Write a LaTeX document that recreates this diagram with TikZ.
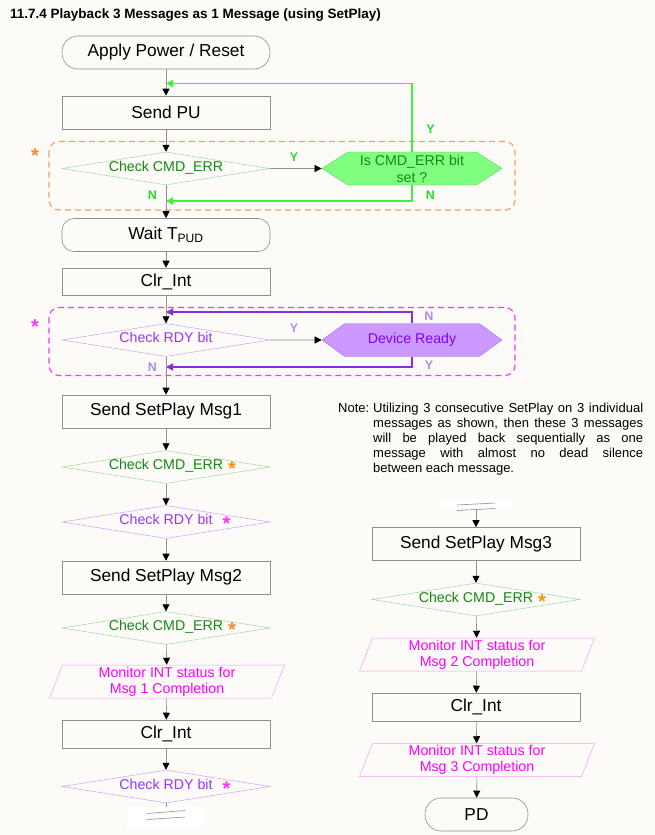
\documentclass[tikz,border=0pt]{standalone}
\usepackage{fontspec}
\setmainfont{Liberation Sans}
\usetikzlibrary{arrows.meta,shapes.geometric,shapes.symbols,positioning}
\definecolor{paper}{HTML}{FCFBF8}
\definecolor{linegray}{HTML}{8F8F8F}
\definecolor{cmdtext}{HTML}{138A13}
\definecolor{cmdline}{HTML}{9FD89F}
\definecolor{loopgreen}{HTML}{3CF03C}
\definecolor{yngreen}{HTML}{2BD92B}
\definecolor{hexfill}{HTML}{80FF80}
\definecolor{hexline}{HTML}{5FCF5F}
\definecolor{rdytext}{HTML}{9933FF}
\definecolor{rdyline}{HTML}{C8A2FF}
\definecolor{readyfill}{HTML}{CC99FF}
\definecolor{readyline}{HTML}{A77BE8}
\definecolor{readytext}{HTML}{8000FF}
\definecolor{looppurple}{HTML}{8A2BE2}
\definecolor{ynpurple}{HTML}{B08CF0}
\definecolor{montext}{HTML}{FF00FF}
\definecolor{monline}{HTML}{FF99FF}
\definecolor{errorange}{HTML}{FF8C1A}
\definecolor{errdash}{HTML}{FF9966}
\definecolor{rdymag}{HTML}{FF33FF}
\newcommand{\cmdstar}{\rlap{\hspace{5pt}\raisebox{-6pt}{\fontsize{20}{20}\selectfont\bfseries\color{errorange}*}}}
\newcommand{\rdystar}{\rlap{\hspace{10pt}\raisebox{-6pt}{\fontsize{20}{20}\selectfont\bfseries\color{rdymag}*}}}
\tikzset{
  base/.style={draw=linegray,line width=0.6pt,minimum width=208pt,minimum height=33pt,inner sep=0pt,font=\fontsize{17.3}{20}\selectfont},
  proc/.style={base,rectangle},
  term/.style={base,rounded corners=16pt},
  dec/.style={diamond,aspect=6.3,minimum width=208pt,minimum height=33pt,inner sep=0pt,text height=5pt,text depth=0pt,line width=0.5pt,font=\fontsize{14.2}{16}\selectfont},
  cmddec/.style={dec,draw=cmdline,text=cmdtext},
  rdydec/.style={dec,draw=rdyline,text=rdytext},
  hexa/.style={signal,signal to=east and west,minimum width=180pt,minimum height=33pt,inner sep=0pt,align=center,font=\fontsize{14.2}{17}\selectfont},
  hexg/.style={hexa,signal pointer angle=65,fill=hexfill,draw=hexline,text=cmdtext},
  hexp/.style={hexa,signal pointer angle=72,fill=readyfill,draw=readyline,text=readytext},
  mon/.style={trapezium,trapezium left angle=66,trapezium right angle=114,trapezium stretches body,draw=monline,text=montext,line width=0.5pt,minimum width=235pt,minimum height=33pt,inner sep=0pt,align=center,font=\fontsize{14.2}{16}\selectfont},
  flow/.style={draw=linegray,line width=0.6pt,-{Triangle[length=7pt,width=7pt,black]}},
  flowline/.style={draw=linegray,line width=0.6pt},
  loopg/.style={draw=loopgreen,line width=1.4pt,-{Triangle[length=7pt,width=7pt]}},
  loopp/.style={draw=looppurple,line width=1.4pt,-{Triangle[length=7pt,width=7pt]}},
  errzone/.style={draw=errdash,line width=1.1pt,dash pattern=on 6pt off 4pt,rounded corners=10pt},
  rdyzone/.style={draw=rdymag,line width=1.1pt,dash pattern=on 6pt off 4pt,rounded corners=10pt},
  ynlab/.style={inner sep=0pt,font=\fontsize{12.5}{14}\selectfont\bfseries},
  bigstar/.style={inner sep=0pt,font=\fontsize{20}{20}\selectfont\bfseries},
  note/.style={inner sep=0pt,font=\fontsize{13}{15}\selectfont},
  title/.style={inner sep=0pt,font=\fontsize{13.5}{15}\selectfont\bfseries}
}
\begin{document}
\begin{tikzpicture}[x=1pt,y=-1pt]
\fill[paper] (0,0) rectangle (655,835);
\useasboundingbox (0,0) rectangle (655,835);
\node[title,anchor=base west] (title) at (10,18.3) {11.7.4 Playback 3 Messages as 1 Message (using SetPlay)};
% dashed zones
\draw[errzone] (49,141.5) rectangle (515,210);
\draw[rdyzone] (49,307.5) rectangle (515,375.5);
\node[bigstar,text=errorange] (star0) at (35,156) {*};
\node[bigstar,text=rdymag] (star1) at (35,327) {*};
% left column
\node[term] (power) at (166,52.5) {Apply Power / Reset};
\node[proc] (sendpu) at (166,112.5) {Send PU};
\node[cmddec] (cmd0) at (166,168.5) {Check CMD\_ERR};
\node[hexg] (iserr) at (412,168.5) {Is CMD\_ERR bit\\set ?};
\node[term,rounded corners=12pt] (wait) at (166,235) {Wait T\textsubscript{PUD}};
\node[proc,minimum height=27pt] (clr0) at (166,281.5) {Clr\_Int};
\node[rdydec] (rdy0) at (166,340) {Check RDY bit};
\node[hexp] (ready) at (412,340) {Device Ready};
\node[proc] (msg1) at (166,411.5) {Send SetPlay Msg1};
\node[cmddec] (cmd1) at (166,467) {Check CMD\_ERR\cmdstar};
\node[rdydec] (rdy1) at (166,522) {Check RDY bit\rdystar};
\node[proc] (msg2) at (166,577.5) {Send SetPlay Msg2};
\node[cmddec] (cmd2) at (166,628) {Check CMD\_ERR\cmdstar};
\node[mon] (mon1) at (167,681.5) {Monitor INT status for\\Msg 1 Completion};
\node[proc,minimum height=28pt] (clr1) at (166,734) {Clr\_Int};
\node[rdydec] (rdy2) at (166,786.5) {Check RDY bit\rdystar};
\coordinate (cut1) at (166,812);
% right column
\coordinate (cut2) at (476,509);
\node[proc] (msg3) at (476,544) {Send SetPlay Msg3};
\node[cmddec] (cmd3) at (476,599.5) {Check CMD\_ERR\cmdstar};
\node[mon] (mon2) at (477,654.5) {Monitor INT status for\\Msg 2 Completion};
\node[proc,minimum height=28pt] (clr2) at (476,707) {Clr\_Int};
\node[mon] (mon3) at (477,760) {Monitor INT status for\\Msg 3 Completion};
\node[term,minimum width=103pt] (pd) at (476.5,814.5) {PD};
% note
\node[note,anchor=base west] (note) at (338,412.7) {\makebox[35pt][l]{Note:}\parbox[t]{270pt}{Utilizing 3 consecutive SetPlay on 3 individual\linebreak messages as shown, then these 3 messages\linebreak will be played back sequentially as one\linebreak message with almost no dead silence\linebreak between each message.}};
% loop joins
\coordinate (join0) at (166,83.5);
\coordinate (join1) at (166,201);
\coordinate (join2) at (166,312);
\coordinate (join3) at (166,367);
% connectors
\draw[flow] (power) -- (sendpu);
\draw[flow] (sendpu) -- (cmd0);
\draw[flow] (cmd0) -- (wait);
\draw[flow] (cmd0) -- (iserr);
\draw[loopg] (iserr.north) |- (join0);
\draw[loopg] (iserr.south) |- (join1);
\draw[flow] (wait) -- (clr0);
\draw[flow] (clr0) -- (rdy0);
\draw[flow] (rdy0) -- (ready);
\draw[loopp] (ready.north) |- (join2);
\draw[loopp] (ready.south) |- (join3);
\draw[flow] (rdy0) -- (msg1);
\draw[flow] (msg1) -- (cmd1);
\draw[flow] (cmd1) -- (rdy1);
\draw[flow] (rdy1) -- (msg2);
\draw[flow] (msg2) -- (cmd2);
\draw[flow] (cmd2) -- (mon1);
\draw[flow] (mon1) -- (clr1);
\draw[flow] (clr1) -- (rdy2);
\draw[flowline] (rdy2) -- (cut1);
\draw[flow] (cut2) -- (msg3);
\draw[flow] (msg3) -- (cmd3);
\draw[flow] (cmd3) -- (mon2);
\draw[flow] (mon2) -- (clr2);
\draw[flow] (clr2) -- (mon3);
\draw[flow] (mon3) -- (pd);
% break marks
\fill[white] (127,807) rectangle (203,828);
\draw[flowline] (147,813.5) -- (185,810.5) (147,819.5) -- (185,817);
\fill[white] (440,499) rectangle (512,508);
\draw[flowline] (457,505) -- (495,503) (457,510.5) -- (495,508.5);
% Y/N labels
\node[ynlab,text=yngreen] (y0) at (294,157) {Y};
\node[ynlab,text=yngreen] (y1) at (430.5,129) {Y};
\node[ynlab,text=yngreen] (n0) at (152.5,195.5) {N};
\node[ynlab,text=yngreen] (n1) at (430.5,195.5) {N};
\node[ynlab,text=ynpurple] (y2) at (294,328) {Y};
\node[ynlab,text=ynpurple] (n2) at (429,316.5) {N};
\node[ynlab,text=ynpurple] (y3) at (429,365.5) {Y};
\node[ynlab,text=ynpurple] (n3) at (152.5,367) {N};
\end{tikzpicture}
\end{document}
